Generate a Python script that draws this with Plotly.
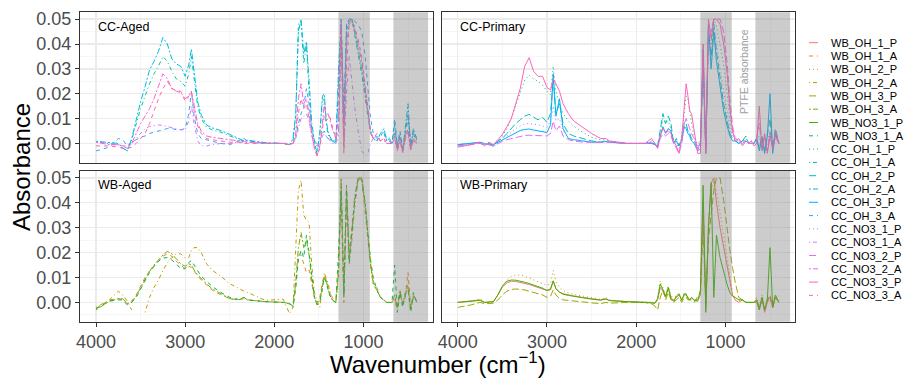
import math
import plotly.graph_objects as go

# ---------------- data ----------------
WN = [4000, 3850, 3750, 3700, 3650, 3600, 3550, 3500, 3450, 3400, 3350, 3300,
      3250, 3200, 3150, 3100, 3050, 3000, 2960, 2930, 2900, 2860, 2820, 2760, 2700,
      2600, 2500, 2400, 2340, 2300, 2100, 1900, 1830, 1790, 1760,
      1730, 1700, 1670, 1640, 1610, 1580, 1550, 1520, 1490, 1460, 1440, 1420, 1400, 1380, 1350, 1310,
      1280, 1250, 1220, 1190, 1160, 1130, 1100, 1060, 1020, 980, 950, 920,
      890, 850, 810, 770, 740, 710, 680,
      650, 620, 590, 560, 530, 500, 470, 440, 400]

SERIES_NAMES = ["WB_OH_1_P", "WB_OH_1_A", "WB_OH_2_P", "WB_OH_2_A", "WB_OH_3_P", "WB_OH_3_A",
                "WB_NO3_1_P", "WB_NO3_1_A", "CC_OH_1_P", "CC_OH_1_A", "CC_OH_2_P", "CC_OH_2_A",
                "CC_OH_3_P", "CC_OH_3_A", "CC_NO3_1_P", "CC_NO3_1_A", "CC_NO3_2_P", "CC_NO3_2_A",
                "CC_NO3_3_P", "CC_NO3_3_A"]

PANEL_TITLES = ["CC-Aged", "CC-Primary", "WB-Aged", "WB-Primary"]
X_TICKS = [4000, 3000, 2000, 1000]
Y_TICKS = [0.00, 0.01, 0.02, 0.03, 0.04, 0.05]
Y_TICK_LABELS = ["0.00", "0.01", "0.02", "0.03", "0.04", "0.05"]
SHADED_BANDS = [(1281, 929), (664, 275)]

WB_OH_1_P = [0.0, 0.0005, 0.001, 0.0, 0.0, 0.0003, 0.003, 0.0062, 0.0078, 0.0085, 0.0084, 0.0081,
             0.0076, 0.0072, 0.0066, 0.006, 0.0055, 0.0048, 0.005, 0.0085, 0.0055, 0.004, 0.0035, 0.003, 0.0026,
             0.002, 0.0015, 0.001, 0.0015, 0.0008, 0.0003, 0.0002, 0.0, -0.0003, 0.001,
             0.006, 0.0045, 0.002, 0.0055, 0.002, 0.0005, 0.002, 0.003, 0.001, 0.003, 0.003, 0.002, 0.001, 0.002, 0.001, 0.001,
             0.003, 0.040, -0.002, 0.030, 0.048, 0.050, 0.040, 0.030, 0.022, 0.014, 0.008, 0.003,
             0.001, 0.0, 0.001, 0.0, 0.0, 0.0, 0.0,
             0.0, -0.003, 0.001, -0.004, 0.0, 0.002, -0.002, 0.002, 0.0]

WB_OH_1_A = [-0.0025, 0.001, 0.0015, 0.0012, -0.0005, 0.0005, 0.003, 0.0065, 0.010, 0.0125, 0.0145, 0.0165,
             0.0185, 0.0195, 0.0185, 0.0165, 0.015, 0.0135, 0.0145, 0.014, 0.0125, 0.0105, 0.009, 0.007, 0.005,
             0.003, 0.0015, 0.001, 0.0015, 0.001, 0.0003, 0.0, -0.0005, -0.001, 0.006,
             0.019, 0.019, 0.015, 0.012, 0.013, 0.007, 0.002, 0.0, 0.002, 0.008, 0.011, 0.009, 0.006, 0.004, 0.001, 0.0,
             0.015, 0.048, 0.005, 0.045, 0.020, 0.030, 0.040, 0.050, 0.050, 0.038, 0.026, 0.016,
             0.008, 0.006, 0.002, 0.001, 0.0, 0.0, 0.0,
             0.002, -0.002, 0.004, 0.0, 0.003, 0.012, -0.002, 0.003, 0.0]

WB_OH_2_P = [0.0, 0.0005, 0.0015, 0.0, 0.0, 0.0003, 0.003, 0.0065, 0.009, 0.0105, 0.011, 0.011,
             0.0105, 0.0098, 0.009, 0.0082, 0.0075, 0.0068, 0.0075, 0.0128, 0.0085, 0.006, 0.0048, 0.0038, 0.0032,
             0.0025, 0.0018, 0.0012, 0.002, 0.001, 0.0004, 0.0002, 0.0, -0.0005, 0.002,
             0.0087, 0.006, 0.003, 0.0065, 0.003, 0.001, 0.003, 0.003, 0.001, 0.004, 0.003, 0.002, 0.001, 0.002, 0.001, 0.001,
             0.002, 0.035, -0.001, 0.032, 0.045, 0.049, 0.045, 0.036, 0.027, 0.018, 0.010, 0.004,
             0.001, 0.001, 0.001, 0.0, 0.0, 0.0, 0.0,
             0.002, -0.002, 0.003, -0.002, 0.002, 0.001, -0.001, 0.003, 0.0]

WB_OH_2_A = [-0.002, 0.001, 0.0045, 0.003, 0.0005, -0.003, None, None, -0.004, 0.002, 0.006, 0.009,
             0.0128, 0.016, 0.018, 0.0195, 0.0195, 0.0178, 0.018, 0.021, 0.022, 0.022, 0.020, 0.0155, 0.013,
             0.0105, 0.0075, 0.0055, 0.0045, 0.004, 0.0008, 0.0013, -0.0045, -0.002, 0.022,
             0.045, 0.049, 0.035, 0.033, 0.032, 0.015, 0.004, 0.0, -0.002, 0.006, 0.012, 0.010, 0.008, 0.005, 0.002, 0.0,
             0.010, 0.045, 0.0, 0.040, 0.015, 0.025, 0.038, 0.050, 0.049, 0.036, 0.024, 0.014,
             0.007, 0.005, 0.002, 0.001, 0.0, 0.0, 0.0,
             0.001, -0.003, 0.003, 0.0, 0.002, 0.008, -0.003, 0.002, 0.0]

WB_OH_3_P = [-0.002, -0.001, 0.0, -0.0005, -0.0005, -0.0003, 0.001, 0.003, 0.0045, 0.0052, 0.0054, 0.0053,
             0.005, 0.0045, 0.004, 0.0035, 0.003, 0.002, 0.0025, 0.005, 0.003, 0.0015, 0.001, 0.0008, 0.0005,
             0.0002, -0.0002, -0.0005, 0.0, -0.0003, 0.0, 0.0, -0.0005, -0.0015, -0.003,
             0.002, 0.005, 0.001, 0.004, 0.001, 0.0, 0.001, 0.002, 0.0, 0.002, 0.002, 0.001, 0.001, 0.001, 0.0, 0.002,
             0.004, 0.030, 0.0, 0.025, 0.035, 0.045, 0.050, 0.050, 0.041, 0.029, 0.021, 0.014,
             0.008, 0.002, 0.001, 0.0, 0.0, 0.0, 0.0,
             0.001, -0.002, 0.002, -0.003, 0.001, 0.003, -0.002, 0.002, 0.0]

WB_OH_3_A = [-0.003, 0.0005, 0.0015, 0.0015, -0.0005, 0.0, 0.0025, 0.006, 0.0095, 0.0125, 0.015, 0.017,
             0.019, 0.0205, 0.0195, 0.0175, 0.0155, 0.0145, 0.0155, 0.015, 0.013, 0.011, 0.0095, 0.0075, 0.0055,
             0.0035, 0.0015, 0.001, 0.002, 0.001, 0.0003, 0.0, -0.0005, -0.002, 0.008,
             0.022, 0.028, 0.022, 0.025, 0.019, 0.009, 0.002, -0.001, 0.001, 0.007, 0.010, 0.009, 0.006, 0.003, 0.001, 0.0,
             0.012, 0.050, 0.002, 0.046, 0.018, 0.028, 0.042, 0.050, 0.050, 0.040, 0.027, 0.015,
             0.008, 0.005, 0.002, 0.001, 0.0, 0.0, 0.0,
             0.003, -0.002, 0.005, -0.001, 0.004, 0.006, -0.003, 0.003, 0.0]

WB_NO3_1_P = [0.0, 0.0005, 0.0008, 0.0, 0.0, 0.0003, 0.003, 0.0065, 0.0085, 0.009, 0.0089, 0.0086,
              0.0081, 0.0076, 0.007, 0.0063, 0.0057, 0.0048, 0.0055, 0.0087, 0.0055, 0.0042, 0.0033, 0.0028, 0.0024,
              0.0018, 0.0013, 0.0009, 0.0013, 0.0007, 0.0003, 0.0002, 0.0, -0.0003, 0.0015,
              0.0074, 0.005, 0.0025, 0.006, 0.0015, 0.0005, 0.0025, 0.0035, 0.0008, 0.0035, 0.0034, 0.0015, 0.001, 0.002, 0.0008, 0.0005,
              0.005, 0.047, -0.004, 0.030, 0.048, 0.002, 0.027, 0.018, 0.012, 0.007, 0.004, 0.0025,
              0.002, 0.001, 0.001, 0.0, 0.0, 0.0, 0.0,
              0.001, -0.003, 0.002, -0.003, 0.001, 0.022, -0.002, 0.003, 0.0]

WB_NO3_1_A = [-0.0025, 0.0005, 0.001, 0.001, -0.001, 0.0, 0.002, 0.0055, 0.009, 0.012, 0.0145, 0.0165,
              0.0178, 0.018, 0.017, 0.0155, 0.0135, 0.0135, 0.016, 0.0168, 0.015, 0.0125, 0.0105, 0.0085, 0.0065,
              0.004, 0.002, 0.0012, 0.002, 0.001, 0.0003, 0.0, -0.0005, -0.0015, 0.006,
              0.017, 0.021, 0.018, 0.027, 0.020, 0.010, 0.002, -0.001, 0.0, 0.006, 0.010, 0.008, 0.005, 0.003, 0.001, 0.0,
              0.020, 0.045, 0.003, 0.047, 0.016, 0.027, 0.040, 0.049, 0.050, 0.039, 0.027, 0.017,
              0.010, 0.005, 0.002, 0.001, 0.0, 0.0, 0.0,
              0.015, -0.004, 0.004, -0.002, 0.003, 0.005, -0.004, 0.004, 0.0]

CC_OH_1_P = [-0.001, 0.0, 0.0005, -0.0005, 0.0, -0.0015, 0.0005, 0.003, 0.006, 0.010, 0.015, 0.020,
             0.0255, 0.0275, 0.026, 0.025, 0.0235, 0.021, 0.0195, 0.031, 0.021, 0.0155, 0.012, 0.009, 0.007,
             0.0045, 0.0025, 0.0015, 0.0015, 0.001, 0.0, 0.0, 0.001, 0.0, -0.001,
             0.004, 0.010, 0.008, 0.009, 0.006, 0.001, 0.0, -0.002, 0.003, 0.012, 0.019, 0.018, 0.012, 0.008, 0.003, -0.001,
             0.002, 0.030, 0.0, 0.044, 0.040, 0.050, 0.047, 0.040, 0.032, 0.020, 0.010, 0.004,
             0.002, 0.001, 0.001, 0.002, 0.0, 0.001, 0.0,
             0.001, 0.003, -0.002, 0.003, -0.003, 0.005, -0.001, 0.003, 0.0]

CC_OH_1_A = [0.0005, 0.0, -0.0005, -0.002, -0.003, 0.0015, 0.008, 0.014, 0.019, 0.024, 0.028, 0.031,
             0.035, 0.033, 0.029, 0.026, 0.025, 0.023, 0.028, 0.035, 0.026, 0.015, 0.010, 0.0065, 0.0055,
             0.0045, 0.003, 0.0018, 0.001, 0.001, 0.0003, 0.0, -0.0005, 0.001, 0.010,
             0.048, 0.049, 0.032, 0.040, 0.020, 0.005, -0.001, -0.003, 0.004, 0.017, 0.018, 0.009, 0.004, 0.002, 0.001, 0.0,
             0.025, 0.048, 0.005, 0.045, 0.049, 0.050, 0.044, 0.036, 0.028, 0.018, 0.010, 0.004,
             0.002, 0.001, 0.003, 0.004, 0.001, 0.001, 0.0,
             0.004, 0.0, 0.003, -0.002, 0.004, 0.010, 0.0, 0.004, 0.0]

CC_OH_2_P = [-0.0005, 0.0, 0.0, -0.0005, 0.0, -0.001, 0.001, 0.002, 0.004, 0.006, 0.008, 0.0095,
             0.011, 0.0117, 0.0105, 0.0095, 0.0105, 0.0085, 0.012, 0.026, 0.012, 0.016, 0.008, 0.004, 0.003,
             0.002, 0.001, 0.0005, 0.001, 0.0005, 0.0, 0.0, 0.0, 0.0, -0.001,
             0.005, 0.012, 0.008, 0.011, 0.008, 0.0, 0.002, -0.001, 0.002, 0.0085, 0.008, 0.005, 0.004, 0.002, 0.001, -0.002,
             0.0, 0.032, -0.002, 0.045, 0.035, 0.048, 0.037, 0.026, 0.016, 0.009, 0.004, 0.002,
             0.001, 0.0, 0.001, 0.003, 0.0, 0.001, 0.0,
             0.002, -0.002, 0.003, -0.003, 0.004, 0.010, -0.002, 0.006, 0.0]

CC_OH_2_A = [0.0009, 0.0004, 0.0, -0.0018, -0.003, 0.002, 0.010, 0.0168, 0.0228, 0.0296, 0.033, 0.037,
             0.0426, 0.040, 0.034, 0.032, 0.031, 0.027, 0.0316, 0.038, 0.029, 0.0168, 0.0114, 0.0074, 0.0063,
             0.0052, 0.0036, 0.002, 0.001, 0.0013, 0.0003, 0.0, -0.0005, 0.002, 0.012,
             0.045, 0.050, 0.036, 0.041, 0.025, 0.008, 0.001, -0.0045, 0.004, 0.019, 0.020, 0.010, 0.005, 0.003, 0.001, 0.0,
             0.030, 0.050, 0.010, 0.048, 0.050, 0.050, 0.045, 0.038, 0.030, 0.020, 0.012, 0.005,
             0.002, 0.001, 0.004, 0.006, 0.001, 0.002, 0.0,
             0.008, -0.002, 0.004, -0.003, 0.006, 0.016, -0.002, 0.006, 0.001]

CC_OH_3_P = [-0.0005, 0.0, 0.0005, 0.0, -0.0005, -0.0005, 0.0005, 0.0015, 0.0025, 0.0035, 0.0045, 0.0052,
             0.0056, 0.0058, 0.0054, 0.005, 0.0047, 0.0044, 0.0075, 0.028, 0.011, 0.018, 0.006, 0.002, 0.0015,
             0.001, 0.0005, 0.0005, 0.0008, 0.0005, 0.0, 0.0, 0.0, -0.0005, -0.0015,
             0.003, 0.0067, 0.004, 0.006, 0.005, 0.0, 0.001, -0.001, 0.001, 0.0067, 0.006, 0.004, 0.003, 0.001, 0.0, -0.003,
             -0.002, 0.038, -0.004, 0.048, 0.030, 0.045, 0.033, 0.022, 0.013, 0.007, 0.003, 0.001,
             0.001, 0.0, 0.001, 0.001, 0.0, 0.0, 0.0,
             0.002, -0.003, 0.002, -0.004, 0.003, 0.020, -0.004, 0.004, 0.0]

CC_OH_3_A = [-0.003, -0.0015, 0.002, 0.0015, -0.001, 0.0005, 0.0015, 0.0025, 0.003, 0.004, 0.0045, 0.005,
             0.0055, 0.006, 0.006, 0.0055, 0.0055, 0.006, 0.012, 0.021, 0.011, 0.004, 0.002, 0.0015, 0.001,
             0.0, -0.0005, 0.001, 0.002, 0.001, 0.0, 0.0, 0.0, 0.0, 0.002,
             0.008, 0.012, 0.015, 0.022, 0.016, 0.006, 0.001, 0.0, 0.001, 0.004, 0.005, 0.003, 0.002, 0.002, 0.001, 0.001,
             0.020, 0.048, 0.010, 0.045, 0.050, 0.050, 0.049, 0.048, 0.045, 0.035, 0.022, 0.010,
             0.004, 0.002, 0.003, 0.005, 0.002, 0.001, 0.0,
             0.010, -0.001, 0.005, -0.002, 0.004, 0.012, -0.001, 0.005, 0.002]

CC_NO3_1_P = [-0.0005, 0.0, 0.0, 0.0, -0.0005, -0.0005, 0.001, 0.002, 0.003, 0.0045, 0.006, 0.007,
              0.0078, 0.008, 0.0078, 0.0075, 0.007, 0.0065, 0.009, 0.015, 0.009, 0.010, 0.005, 0.002, 0.0015,
              0.001, 0.0005, 0.0005, 0.0008, 0.0005, 0.0, 0.0, 0.0, -0.0005, -0.001,
              0.003, 0.006, 0.005, 0.006, 0.004, 0.0, 0.001, -0.001, 0.001, 0.006, 0.007, 0.005, 0.004, 0.002, 0.001, -0.001,
              0.001, 0.030, -0.002, 0.042, 0.038, 0.047, 0.040, 0.030, 0.020, 0.012, 0.006, 0.003,
              0.001, 0.001, 0.0, 0.001, 0.0, 0.0, 0.0,
              0.001, -0.002, 0.002, -0.002, 0.002, 0.004, -0.002, 0.002, 0.0]

CC_NO3_1_A = [0.0005, 0.0, -0.001, -0.001, -0.001, 0.0, 0.002, 0.004, 0.006, 0.0068, 0.0072, 0.0075,
              0.0072, 0.0068, 0.0062, 0.0058, 0.0055, 0.0055, 0.009, 0.015, 0.008, 0.001, -0.001, -0.001, -0.0005,
              0.0, 0.0, 0.0005, 0.0005, 0.0005, 0.0, 0.0, 0.0, 0.0, 0.002,
              0.006, 0.010, 0.011, 0.012, 0.009, 0.003, 0.0, -0.001, 0.0, 0.003, 0.004, 0.003, 0.002, 0.001, 0.0, 0.0,
              0.003, 0.040, -0.003, 0.020, 0.035, 0.025, 0.015, 0.005, -0.003, -0.005, -0.004, 0.0,
              0.002, 0.003, 0.001, 0.001, 0.0, 0.0, 0.0,
              0.003, -0.002, 0.002, -0.003, 0.002, 0.004, -0.002, 0.002, 0.0]

CC_NO3_2_P = [-0.001, -0.0005, 0.0, -0.0005, -0.0005, -0.001, 0.0, 0.0008, 0.0015, 0.002, 0.0025, 0.003,
              0.0032, 0.0033, 0.0033, 0.0032, 0.003, 0.003, 0.004, 0.009, 0.005, 0.007, 0.003, 0.0015, 0.001,
              0.0005, 0.0005, 0.0005, 0.0008, 0.0005, 0.0, 0.0, 0.0005, 0.0, -0.0015,
              0.002, 0.004, 0.003, 0.004, 0.003, 0.0, -0.002, -0.004, 0.0, 0.008, 0.010, 0.008, 0.006, 0.004, 0.002, -0.003,
              0.001, 0.035, -0.003, 0.046, 0.045, 0.050, 0.050, 0.050, 0.045, 0.032, 0.018, 0.007,
              0.002, 0.001, 0.0, 0.001, 0.0, 0.0, 0.0,
              0.002, 0.008, -0.002, 0.002, -0.003, 0.004, -0.002, 0.003, 0.0]

CC_NO3_2_A = [0.0005, -0.0005, -0.0005, -0.001, -0.002, 0.0, 0.004, 0.008, 0.011, 0.014, 0.018, 0.023,
              0.028, 0.026, 0.022, 0.021, 0.0205, 0.018, 0.019, 0.021, 0.015, 0.008, 0.005, 0.003, 0.0025,
              0.002, 0.0015, 0.001, 0.0005, 0.0005, 0.0, 0.0, -0.0005, 0.0, 0.004,
              0.018, 0.024, 0.016, 0.018, 0.012, 0.004, -0.002, -0.005, -0.001, 0.008, 0.016, 0.011, 0.012, 0.010, 0.006, 0.002,
              0.010, 0.049, 0.0, 0.040, 0.048, 0.049, 0.046, 0.040, 0.033, 0.022, 0.012, 0.004,
              0.002, 0.003, 0.001, 0.002, 0.0, 0.0, 0.0,
              0.002, -0.003, 0.001, -0.004, 0.003, 0.005, -0.003, 0.002, 0.0]

CC_NO3_3_P = [-0.0015, -0.0005, 0.0005, -0.001, 0.0005, -0.0005, 0.0015, 0.0036, 0.0067, 0.010, 0.016, 0.022,
              0.031, 0.0345, 0.029, 0.027, 0.027, 0.0225, 0.0215, 0.026, 0.024, 0.021, 0.016, 0.012, 0.009,
              0.0065, 0.004, 0.002, 0.002, 0.001, 0.0, 0.0, 0.002, 0.0, -0.002,
              0.003, 0.006, 0.0045, 0.005, 0.004, 0.001, -0.001, -0.004, 0.002, 0.016, 0.024, 0.019, 0.013, 0.012, 0.005, -0.004,
              -0.004, 0.040, -0.004, 0.050, 0.042, 0.050, 0.050, 0.048, 0.040, 0.028, 0.014, 0.005,
              0.001, 0.002, -0.001, 0.001, 0.0, 0.001, -0.001,
              0.0, 0.015, -0.003, 0.004, -0.004, 0.003, -0.002, 0.005, 0.0]

CC_NO3_3_A = [-0.001, -0.001, -0.0015, -0.002, -0.002, -0.0015, 0.0, 0.002, 0.004, 0.008, 0.013, 0.018,
              0.022, 0.025, 0.022, 0.0215, 0.021, 0.017, 0.019, 0.0205, 0.013, 0.007, 0.004, 0.002, 0.0015,
              0.001, 0.0005, 0.0005, 0.0, 0.0, 0.0, 0.0, -0.0005, 0.0, 0.003,
              0.012, 0.018, 0.014, 0.016, 0.010, 0.003, -0.002, -0.005, -0.002, 0.006, 0.011, 0.009, 0.010, 0.011, 0.007, 0.002,
              0.005, 0.045, -0.004, 0.030, 0.049, 0.050, 0.047, 0.042, 0.035, 0.024, 0.014, 0.005,
              0.002, 0.004, 0.001, 0.002, 0.0, 0.0, 0.0,
              0.003, -0.002, 0.002, -0.003, 0.002, 0.006, -0.002, 0.001, 0.0]

SERIES_VALUES = [WB_OH_1_P, WB_OH_1_A, WB_OH_2_P, WB_OH_2_A, WB_OH_3_P, WB_OH_3_A,
                 WB_NO3_1_P, WB_NO3_1_A, CC_OH_1_P, CC_OH_1_A, CC_OH_2_P, CC_OH_2_A,
                 CC_OH_3_P, CC_OH_3_A, CC_NO3_1_P, CC_NO3_1_A, CC_NO3_2_P, CC_NO3_2_A,
                 CC_NO3_3_P, CC_NO3_3_A]

for nm, vals in zip(SERIES_NAMES, SERIES_VALUES):
    assert len(vals) == len(WN), (nm, len(vals), len(WN))

# ---------------- styling ----------------
W, H = 906, 379


def hue_hex(h, c=100.0, l=65.0):
    """ggplot2 hue palette colour (polar LUV -> sRGB)."""
    hr = math.radians(h)
    U, V = c * math.cos(hr), c * math.sin(hr)
    Xn, Yn, Zn = 95.047, 100.0, 108.883
    Y = Yn * ((l + 16) / 116) ** 3 if l > 8 else Yn * l / 903.3
    t = Xn + 15 * Yn + 3 * Zn
    un, vn = 4 * Xn / t, 9 * Yn / t
    u = U / (13 * l) + un
    v = V / (13 * l) + vn
    X = 9.0 * Y * u / (4 * v)
    Z = -X / 3 - 5 * Y + 3 * Y / v
    X, Y, Z = X / 100, Y / 100, Z / 100
    r = 3.240479 * X - 1.537150 * Y - 0.498535 * Z
    g = -0.969256 * X + 1.875992 * Y + 0.041556 * Z
    b = 0.055648 * X - 0.204043 * Y + 1.057311 * Z

    def gam(x):
        x = 1.055 * x ** (1 / 2.4) - 0.055 if x > 0.0031308 else 12.92 * x
        return max(0, min(255, int(round(x * 255))))
    return "#%02X%02X%02X" % (gam(r), gam(g), gam(b))


n = len(SERIES_NAMES)
COLORS = [hue_hex(15 + 360.0 / n * i) for i in range(n)]
DASHES = ["solid", "4px,4px", "1px,3px", "1px,3px,4px,3px", "7px,3px", "2px,2px,6px,2px"]

# panel pixel boxes: (left, right, top, bottom)
PANELS = [(80, 433, 12.3, 162.7), (441.7, 795, 12.3, 162.7),
          (80, 433, 171, 321.7), (441.7, 795, 171, 321.7)]
AX = [("x", "y"), ("x2", "y2"), ("x3", "y3"), ("x4", "y4")]

X_RANGE = [4180, 220]
Y_RANGE = [-0.00775, 0.05275]
FONT = "Liberation Sans, Arial, Helvetica, sans-serif"

fig = go.Figure()

for i, (nm, vals) in enumerate(zip(SERIES_NAMES, SERIES_VALUES)):
    site = nm[:2]
    aged = nm.endswith("_A")
    panel = (0 if site == "CC" else 2) + (0 if aged else 1)
    xa, ya = AX[panel]
    fig.add_trace(go.Scatter(
        x=WN, y=vals, mode="lines", name=nm, xaxis=xa, yaxis=ya,
        line=dict(color=COLORS[i], width=1, dash=DASHES[i % 6]),
        connectgaps=False, showlegend=False, hoverinfo="skip"))

layout = dict(width=W, height=H, margin=dict(l=0, r=0, t=0, b=0, pad=0, autoexpand=False),
              paper_bgcolor="white", plot_bgcolor="white", showlegend=False,
              font=dict(family=FONT))

for k, (l, r, t, b) in enumerate(PANELS):
    xname = "xaxis" if k == 0 else "xaxis%d" % (k + 1)
    yname = "yaxis" if k == 0 else "yaxis%d" % (k + 1)
    xa, ya = AX[k]
    bottom = k >= 2
    left = k % 2 == 0
    layout[xname] = dict(
        domain=[l / W, r / W], anchor=ya, range=X_RANGE, autorange=False, automargin=False,
        tickvals=X_TICKS, ticktext=[str(v) for v in X_TICKS],
        showticklabels=bottom, ticks="outside" if bottom else "", ticklen=4,
        tickcolor="#333333", tickwidth=1,
        tickfont=dict(size=18, color="#4D4D4D", family=FONT),
        showgrid=True, gridcolor="#EBEBEB", gridwidth=1.3,
        minor=dict(tickvals=[3500, 2500, 1500, 500], showgrid=True,
                   gridcolor="#F2F2F2", gridwidth=0.7),
        zeroline=False, showline=True, mirror=True, linecolor="#333333", linewidth=1)
    layout[yname] = dict(
        domain=[1 - b / H, 1 - t / H], anchor=xa, range=Y_RANGE, autorange=False, automargin=False,
        tickvals=Y_TICKS, ticktext=Y_TICK_LABELS,
        showticklabels=left, ticks="outside" if left else "", ticklen=4,
        tickcolor="#333333", tickwidth=1,
        tickfont=dict(size=18, color="#4D4D4D", family=FONT),
        showgrid=True, gridcolor="#EBEBEB", gridwidth=1.3,
        minor=dict(tickvals=[-0.005, 0.005, 0.015, 0.025, 0.035, 0.045], showgrid=True,
                   gridcolor="#F2F2F2", gridwidth=0.7),
        zeroline=False, showline=True, mirror=True, linecolor="#333333", linewidth=1)

shapes = []
annotations = []
for k in range(4):
    xa, ya = AX[k]
    for (x0, x1) in SHADED_BANDS:
        shapes.append(dict(type="rect", xref=xa, yref=ya + " domain", x0=x0, x1=x1, y0=0, y1=1,
                           fillcolor="rgba(128,128,128,0.4)", line=dict(width=0), layer="above"))
    annotations.append(dict(xref=xa, yref=ya, x=4000, y=0.047, text=PANEL_TITLES[k],
                            showarrow=False, xanchor="left", yanchor="middle",
                            font=dict(size=12.5, color="black", family=FONT)))

annotations.append(dict(xref="x2", yref="y2", x=785, y=0.029, text="PTFE absorbance",
                        textangle=-90, showarrow=False, xanchor="center", yanchor="middle",
                        font=dict(size=10.5, color="#A0A0A0", family=FONT)))

annotations.append(dict(xref="paper", yref="paper", x=21 / W, y=1 - 167 / H, text="Absorbance",
                        textangle=-90, showarrow=False, xanchor="center", yanchor="middle",
                        font=dict(size=24, color="black", family=FONT)))
annotations.append(dict(xref="paper", yref="paper", x=437.5 / W, y=1 - 363 / H,
                        text="Wavenumber (cm<sup>\u22121</sup>)",
                        showarrow=False, xanchor="center", yanchor="middle",
                        font=dict(size=24, color="black", family=FONT)))

# manual legend
for i, nm in enumerate(SERIES_NAMES):
    py = 42.7 + 13.3 * i
    shapes.append(dict(type="line", xref="paper", yref="paper",
                       x0=809 / W, x1=818 / W, y0=1 - py / H, y1=1 - py / H,
                       line=dict(color=COLORS[i], width=1, dash=DASHES[i % 6])))
    annotations.append(dict(xref="paper", yref="paper", x=829 / W, y=1 - py / H, text=nm,
                            showarrow=False, xanchor="left", yanchor="middle",
                            font=dict(size=11, color="black", family=FONT)))

layout["shapes"] = shapes
layout["annotations"] = annotations
fig.update_layout(**layout)

fig.write_html("out.html",
               config={"displayModeBar": False, "staticPlot": True},
               post_script="document.body.style.margin='0';document.body.style.padding='0';"
                           "document.body.style.overflow='hidden';")
